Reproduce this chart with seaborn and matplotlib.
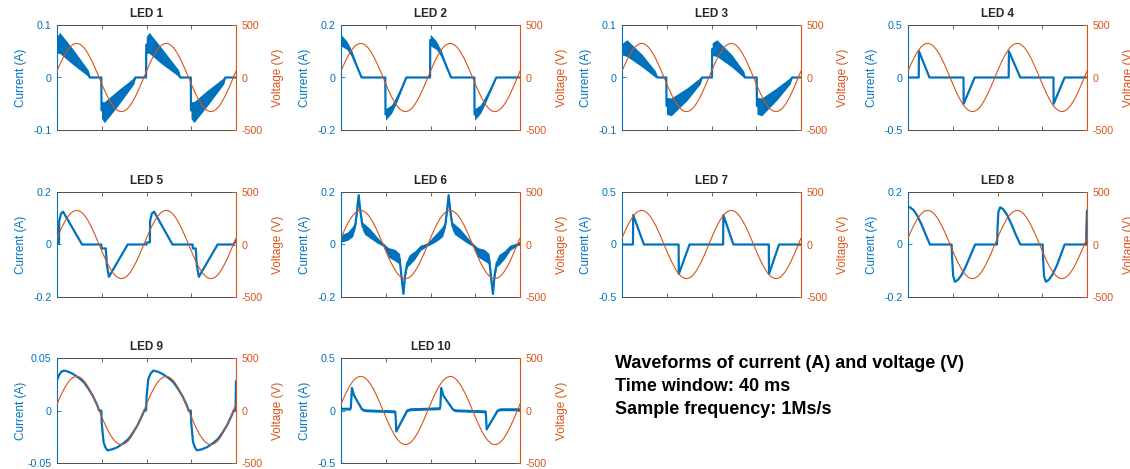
import numpy as np
import matplotlib
matplotlib.use("Agg")
import matplotlib.pyplot as plt
import seaborn as sns

# ---------------- data (time in ms, current in A, voltage in V) ----------------
VOLT = [61, 110, 157, 199, 237, 269, 294, 312, 322, 325, 319, 306, 285, 257, 222, 183, 138, 91, 41, -10,
        -61, -110, -157, -199, -237, -269, -294, -312, -322, -325, -319, -306, -285, -257, -222, -183, -138, -91, -41, 10,
        61, 110, 157, 199, 237, 269, 294, 312, 322, 325, 319, 306, 285, 257, 222, 183, 138, 91, 41, -10,
        -61, -110, -157, -199, -237, -269, -294, -312, -322, -325, -319, -306, -285, -257, -222, -183, -138, -91, -41, 10,
        61]
VOLT_T = np.linspace(0, 40, len(VOLT))

T1 = [0, 0.6, 3.5, 7.0, 7.3, 9.9, 9.95, 10.6, 13.5, 17.2, 17.5, 19.9, 19.95, 20.6, 23.5, 27.2, 27.5, 29.9, 29.95, 30.6, 33.5, 37.3, 37.6, 40]
I1 = [0.062, 0.066, 0.040, 0.008, 0, 0, -0.062, -0.066, -0.040, -0.006, 0, 0, 0.062, 0.066, 0.040, 0.008, 0, 0, -0.062, -0.066, -0.040, -0.006, 0, 0]
R1 = [0.016, 0.020, 0.015, 0.006, 0, 0, 0.016, 0.020, 0.015, 0.006, 0, 0, 0.016, 0.020, 0.015, 0.006, 0, 0, 0.016, 0.020, 0.015, 0.006, 0, 0]

T2 = [0, 1.3, 2.4, 3.5, 4.6, 9.9, 9.95, 11.3, 12.4, 13.5, 14.6, 19.9, 19.95, 21.3, 22.4, 23.5, 24.6, 29.8, 29.85, 31.2, 32.3, 33.5, 34.7, 40]
I2 = [0.142, 0.123, 0.091, 0.045, 0, 0, -0.141, -0.12, -0.085, -0.045, 0, 0, 0.143, 0.123, 0.091, 0.045, 0, 0, -0.141, -0.12, -0.085, -0.045, 0, 0]
R2 = [0.022, 0.016, 0.012, 0.004, 0, 0, 0.022, 0.016, 0.012, 0.004, 0, 0, 0.022, 0.016, 0.012, 0.004, 0, 0, 0.022, 0.016, 0.012, 0.004, 0, 0]

T3 = [0, 1.1, 4.5, 7.5, 7.9, 9.9, 9.95, 11.0, 14.5, 17.5, 17.9, 20.1, 20.15, 21.2, 24.5, 27.2, 27.5, 30.1, 30.15, 31.2, 34.5, 37.6, 38.0, 40]
I3 = [0.054, 0.056, 0.032, 0.006, 0, 0, -0.054, -0.056, -0.032, -0.006, 0, 0, 0.054, 0.056, 0.032, 0.006, 0, 0, -0.054, -0.056, -0.032, -0.006, 0, 0]
R3 = [0.011, 0.016, 0.012, 0.006, 0, 0, 0.016, 0.017, 0.012, 0.006, 0, 0, 0.012, 0.016, 0.012, 0.006, 0, 0, 0.016, 0.017, 0.012, 0.006, 0, 0]

T4 = [0, 2.4, 2.45, 4.8, 12.4, 12.45, 14.9, 22.5, 22.55, 25.1, 32.5, 32.55, 35.0, 40]
I4 = [0, 0, 0.25, 0, 0, -0.25, 0, 0, 0.25, 0, 0, -0.25, 0, 0]

T5 = [0, 0.45, 0.5, 0.9, 1.35, 5.6, 9.9, 9.95, 10.9, 11.15, 11.6, 15.8, 20.0, 20.05, 20.75, 20.8, 21.2, 21.7, 25.8, 30.3, 30.35, 31.0, 31.25, 31.7, 35.9, 39.4, 40]
I5 = [0.005, 0.005, 0.09, 0.118, 0.125, 0, 0, -0.015, -0.015, -0.08, -0.123, 0, 0, 0.008, 0.008, 0.09, 0.118, 0.125, 0, 0, -0.015, -0.015, -0.08, -0.123, 0, 0, 0.015]

T6 = [0, 1.5, 2.6, 3.2, 3.6, 3.95, 4.3, 4.8, 5.3, 6.5, 8.0, 9.6, 10.6, 12.0, 13.1, 13.5, 13.95, 14.3, 14.8, 15.3, 16.5, 17.8, 19.4,
      20.4, 21.5, 22.7, 23.3, 23.7, 24.05, 24.4, 24.9, 25.4, 26.6, 28.1, 29.6, 30.6, 32.0, 33.1, 33.5, 33.95, 34.3, 34.8, 35.3, 36.5, 37.8, 39.4, 40]
I6 = [0.023, 0.032, 0.05, 0.075, 0.13, 0.188, 0.13, 0.07, 0.058, 0.042, 0.018, -0.003, -0.03, -0.04, -0.055, -0.12, -0.188, -0.12, -0.07, -0.058, -0.04, -0.012, 0.0,
      0.015, 0.03, 0.05, 0.075, 0.13, 0.188, 0.13, 0.07, 0.058, 0.042, 0.018, -0.003, -0.03, -0.04, -0.055, -0.12, -0.188, -0.12, -0.07, -0.058, -0.04, -0.012, 0.0, 0.005]
R6 = [0.014, 0.016, 0.02, 0.012, 0.008, 0.005, 0.008, 0.015, 0.02, 0.018, 0.012, 0.005, 0.018, 0.022, 0.02, 0.008, 0.005, 0.008, 0.015, 0.02, 0.016, 0.01, 0.005,
      0.012, 0.016, 0.02, 0.012, 0.008, 0.005, 0.008, 0.015, 0.02, 0.018, 0.012, 0.005, 0.018, 0.022, 0.02, 0.008, 0.005, 0.008, 0.015, 0.02, 0.016, 0.01, 0.005, 0.005]

T7 = [0, 2.45, 2.5, 4.9, 12.65, 12.7, 15.1, 22.6, 22.65, 24.9, 32.8, 32.85, 35.1, 40]
I7 = [0, 0, 0.28, 0, 0, -0.28, 0, 0, 0.28, 0, 0, -0.28, 0, 0]

T8 = [0, 0.4, 1.2, 2.0, 3.0, 4.0, 4.9, 9.75, 9.85, 10.1, 10.5, 11.2, 12.0, 13.0, 14.0, 15.0, 19.9, 20.0, 20.2, 20.6,
      21.3, 22.1, 23.1, 24.1, 25.1, 30.1, 30.2, 30.4, 30.8, 31.5, 32.3, 33.3, 34.2, 35.0, 39.8, 39.9, 40]
I8 = [0.14, 0.142, 0.132, 0.112, 0.077, 0.036, 0, 0, -0.05, -0.12, -0.142, -0.134, -0.115, -0.08, -0.04, 0, 0, 0.06, 0.125, 0.142,
      0.134, 0.114, 0.078, 0.037, 0, 0, -0.06, -0.12, -0.142, -0.134, -0.114, -0.078, -0.037, 0, 0, 0.08, 0.13]

T9 = [0, 0.5, 1.0, 1.6, 2.5, 3.5, 4.9, 6.0, 7.0, 8.0, 9.0, 9.4, 9.9, 10.0, 10.4, 10.8, 11.3, 12.3, 13.5, 14.9, 16.0, 17.0, 18.0, 19.0, 19.5, 19.9,
      20.0, 20.4, 20.9, 21.5, 22.5, 23.5, 24.9, 26.0, 27.0, 28.0, 29.0, 29.4, 29.9, 30.0, 30.4, 30.8, 31.3, 32.3, 33.5, 34.9, 36.0, 37.0, 38.0, 39.0, 39.5, 39.9, 40]
I9 = [0.029, 0.034, 0.037, 0.038, 0.037, 0.035, 0.031, 0.027, 0.021, 0.014, 0.005, 0.0, 0.0, -0.012, -0.03, -0.035, -0.038, -0.037, -0.035, -0.031, -0.027, -0.021, -0.014, -0.005, 0.0, 0.0,
      0.012, 0.03, 0.035, 0.038, 0.037, 0.035, 0.031, 0.027, 0.021, 0.014, 0.005, 0.0, 0.0, -0.012, -0.03, -0.035, -0.038, -0.037, -0.035, -0.031, -0.027, -0.021, -0.014, -0.005, 0.0, 0.0, 0.028]

T10 = [0, 2.1, 2.2, 2.45, 2.95, 4.7, 5.5, 12.1, 12.2, 12.35, 14.8, 15.5, 22.1, 22.2, 22.4, 22.9, 25.0, 25.6, 32.3, 32.4, 32.55, 35.0, 35.6, 40]
I10 = [0.016, 0.016, 0.03, 0.215, 0.14, 0.01, 0, -0.01, -0.05, -0.2, 0, 0.01, 0.02, 0.04, 0.215, 0.14, 0.01, 0, -0.01, -0.05, -0.18, 0, 0.01, 0.01]
R10 = [0.012, 0.012, 0.005, 0, 0.005, 0.012, 0.012, 0.012, 0.005, 0, 0.01, 0.012, 0.012, 0.005, 0, 0.005, 0.012, 0.012, 0.012, 0.005, 0, 0.01, 0.012, 0.012]

TITLES = ["LED 1", "LED 2", "LED 3", "LED 4", "LED 5", "LED 6", "LED 7", "LED 8", "LED 9", "LED 10"]
CURRENT_T = [T1, T2, T3, T4, T5, T6, T7, T8, T9, T10]
CURRENT_I = [I1, I2, I3, I4, I5, I6, I7, I8, I9, I10]
RIPPLE = [R1, R2, R3, None, None, R6, None, None, None, R10]
I_LIMS = [0.1, 0.2, 0.1, 0.5, 0.2, 0.2, 0.5, 0.2, 0.05, 0.5]
V_LIM = 500
INFO_LINES = ["Waveforms of current (A) and voltage (V)", "Time window: 40 ms", "Sample frequency: 1Ms/s"]

# ---------------- styling ----------------
sns.set_style("white")
plt.rcParams['font.family'] = ['Liberation Sans', 'DejaVu Sans']
BLUE = '#0072BD'
ORANGE = '#D95319'
FRAME = '#4d4d4d'

W, H = 1130, 469
fig = plt.figure(figsize=(W / 100, H / 100), dpi=100)
fig.patch.set_facecolor('white')

COL_X = [57, 341, 622, 908]
ROW_Y = [25, 192, 358]
AW, AH = 179, 105

TICK_FS = 7.7
LABEL_FS = 8.5


def fmt(v):
    s = f"{v:g}"
    return s

for k in range(10):
    r, c = divmod(k, 4)
    x0, y0 = COL_X[c], ROW_Y[r]
    ax = fig.add_axes([x0 / W, 1 - (y0 + AH) / H, AW / W, AH / H])
    t = np.array(CURRENT_T[k], dtype=float)
    i = np.array(CURRENT_I[k], dtype=float)
    if RIPPLE[k] is not None:
        rr = np.array(RIPPLE[k], dtype=float)
        ax.fill_between(t, i - rr, i + rr, color=BLUE, lw=0)
    sns.lineplot(x=t, y=i, ax=ax, color=BLUE, lw=1.6, estimator=None, sort=False)
    lim = I_LIMS[k]
    ax.set_xlim(0, 40)
    ax.set_ylim(-lim, lim)
    ax.set_xticks([0, 10, 20, 30, 40])
    ax.set_xticklabels([])
    ax.set_yticks([-lim, 0, lim])
    ax.set_yticklabels([fmt(-lim), "0", fmt(lim)])
    ax.tick_params(axis='x', direction='in', length=3, width=0.6, top=True, bottom=True,
                   labelbottom=False, color=FRAME)
    ax.tick_params(axis='y', direction='in', length=3, width=0.6, colors=BLUE,
                   labelsize=TICK_FS, pad=4)
    ax.set_title(TITLES[k], fontsize=8.5, fontweight='bold', pad=5.5)
    ax.set_ylabel("Current (A)", color=BLUE, fontsize=LABEL_FS)
    ax.yaxis.set_label_coords(-30 / AW, 0.5)
    ax.set_xlabel("")
    for side in ['top', 'bottom']:
        ax.spines[side].set_color(FRAME)
        ax.spines[side].set_linewidth(0.7)
    ax.spines['left'].set_color(BLUE)
    ax.spines['left'].set_linewidth(0.8)
    ax.spines['right'].set_visible(False)

    ax2 = ax.twinx()
    sns.lineplot(x=VOLT_T, y=np.array(VOLT, dtype=float), ax=ax2, color=ORANGE, lw=0.8,
                 estimator=None, sort=False)
    ax2.set_ylim(-V_LIM, V_LIM)
    ax2.set_yticks([-V_LIM, 0, V_LIM])
    ax2.set_yticklabels([str(-V_LIM), "0", str(V_LIM)])
    ax2.tick_params(axis='y', direction='in', length=3, width=0.6, colors=ORANGE,
                    labelsize=TICK_FS, pad=4)
    ax2.set_ylabel("Voltage (V)", color=ORANGE, fontsize=LABEL_FS)
    ax2.yaxis.set_label_coords(1 + 36 / AW, 0.5)
    ax2.set_xlabel("")
    for side in ['left', 'top', 'bottom']:
        ax2.spines[side].set_visible(False)
    ax2.spines['right'].set_color(ORANGE)
    ax2.spines['right'].set_linewidth(0.8)

for n, line in enumerate(INFO_LINES):
    fig.text(615 / W, 1 - (363 + 23 * n) / H, line, fontsize=13, fontweight='bold',
             va='center', ha='left', color='black')

fig.savefig("out.png", dpi=100, facecolor='white')
